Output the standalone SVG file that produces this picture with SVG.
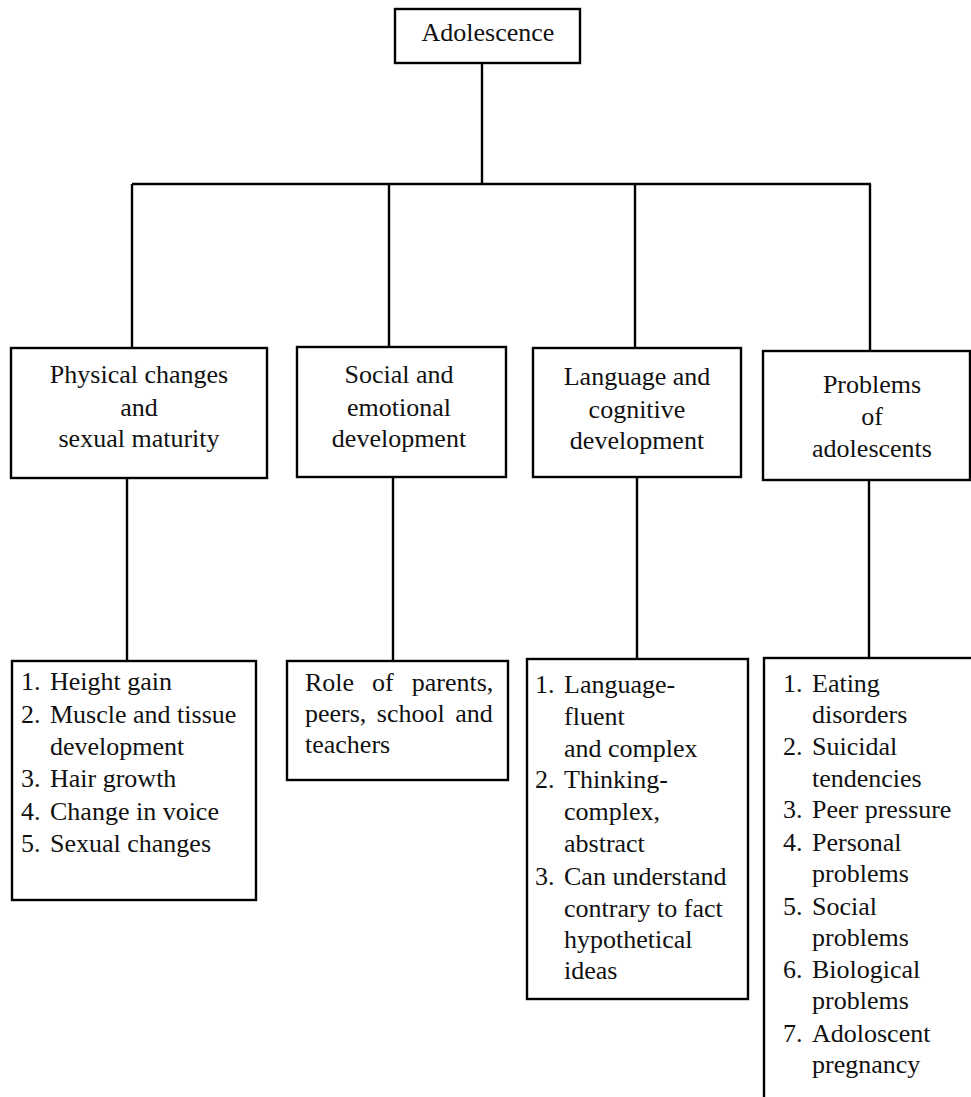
<svg xmlns="http://www.w3.org/2000/svg" width="971" height="1097" viewBox="0 0 971 1097">
<style>
.box{fill:#fff;stroke:#000;stroke-width:2.4}
.ln{stroke:#000;stroke-width:2.4;fill:none}
.t text{font-family:'Times New Roman','Liberation Serif',Times,serif;font-size:26px;fill:#111}
.c{text-anchor:middle}
</style>
<rect width="971" height="1097" fill="#fff"/>
<g id="connectors">
<line class="ln" x1="482" y1="63" x2="482" y2="184"/>
<line class="ln" x1="132" y1="184" x2="871" y2="184"/>
<line class="ln" x1="132" y1="184" x2="132" y2="348"/>
<line class="ln" x1="389" y1="184" x2="389" y2="347"/>
<line class="ln" x1="635" y1="184" x2="635" y2="348"/>
<line class="ln" x1="870" y1="184" x2="870" y2="351"/>
<line class="ln" x1="127" y1="478" x2="127" y2="661"/>
<line class="ln" x1="393" y1="477" x2="393" y2="661"/>
<line class="ln" x1="637" y1="477" x2="637" y2="659"/>
<line class="ln" x1="869" y1="480" x2="869" y2="658"/>
</g>
<g class="t">
<g id="adolescence">
<rect class="box" x="395" y="9" width="185" height="54"/>
<text class="c" x="488" y="41">Adolescence</text>
</g>
<g id="physical">
<rect class="box" x="11" y="348" width="256" height="130"/>
<text class="c" x="139" y="383">Physical changes</text>
<text class="c" x="139" y="416">and</text>
<text class="c" x="139" y="447">sexual maturity</text>
</g>
<g id="social">
<rect class="box" x="297" y="347" width="209" height="130"/>
<text class="c" x="399" y="383">Social and</text>
<text class="c" x="399" y="416">emotional</text>
<text class="c" x="399" y="447">development</text>
</g>
<g id="language">
<rect class="box" x="533" y="348" width="208" height="129"/>
<text class="c" x="637" y="385">Language and</text>
<text class="c" x="637" y="418">cognitive</text>
<text class="c" x="637" y="449">development</text>
</g>
<g id="problems">
<rect class="box" x="763" y="351" width="207" height="129"/>
<text class="c" x="872" y="393">Problems</text>
<text class="c" x="872" y="425">of</text>
<text class="c" x="872" y="457">adolescents</text>
</g>
<g id="physical-list">
<rect class="box" x="12" y="661" width="244" height="239"/>
<text x="21" y="690">1.</text><text x="50" y="690">Height gain</text>
<text x="21" y="723">2.</text><text x="50" y="723">Muscle and tissue</text>
<text x="50" y="755">development</text>
<text x="21" y="787">3.</text><text x="50" y="787">Hair growth</text>
<text x="21" y="820">4.</text><text x="50" y="820">Change in voice</text>
<text x="21" y="852">5.</text><text x="50" y="852">Sexual changes</text>
</g>
<g id="social-list">
<rect class="box" x="287" y="661" width="221" height="119"/>
<text x="305" y="691" word-spacing="11.5">Role of parents,</text>
<text x="305" y="722" word-spacing="4">peers, school and</text>
<text x="305" y="753">teachers</text>
</g>
<g id="language-list">
<rect class="box" x="527" y="659" width="221" height="340"/>
<text x="535" y="693">1.</text><text x="564" y="693">Language-</text>
<text x="564" y="725">fluent</text>
<text x="564" y="757">and complex</text>
<text x="535" y="788">2.</text><text x="564" y="788">Thinking-</text>
<text x="564" y="820">complex,</text>
<text x="564" y="852">abstract</text>
<text x="535" y="885">3.</text><text x="564" y="885">Can understand</text>
<text x="564" y="917">contrary to fact</text>
<text x="564" y="948">hypothetical</text>
<text x="564" y="979">ideas</text>
</g>
<g id="problems-list">
<rect class="box" x="764" y="658" width="230" height="460"/>
<text x="783" y="692">1.</text><text x="812" y="692">Eating</text>
<text x="812" y="723">disorders</text>
<text x="783" y="755">2.</text><text x="812" y="755">Suicidal</text>
<text x="812" y="787">tendencies</text>
<text x="783" y="818">3.</text><text x="812" y="818">Peer pressure</text>
<text x="783" y="851">4.</text><text x="812" y="851">Personal</text>
<text x="812" y="882">problems</text>
<text x="783" y="915">5.</text><text x="812" y="915">Social</text>
<text x="812" y="946">problems</text>
<text x="783" y="978">6.</text><text x="812" y="978">Biological</text>
<text x="812" y="1009">problems</text>
<text x="783" y="1042">7.</text><text x="812" y="1042">Adoloscent</text>
<text x="812" y="1073">pregnancy</text>
</g>
</g>
</svg>
